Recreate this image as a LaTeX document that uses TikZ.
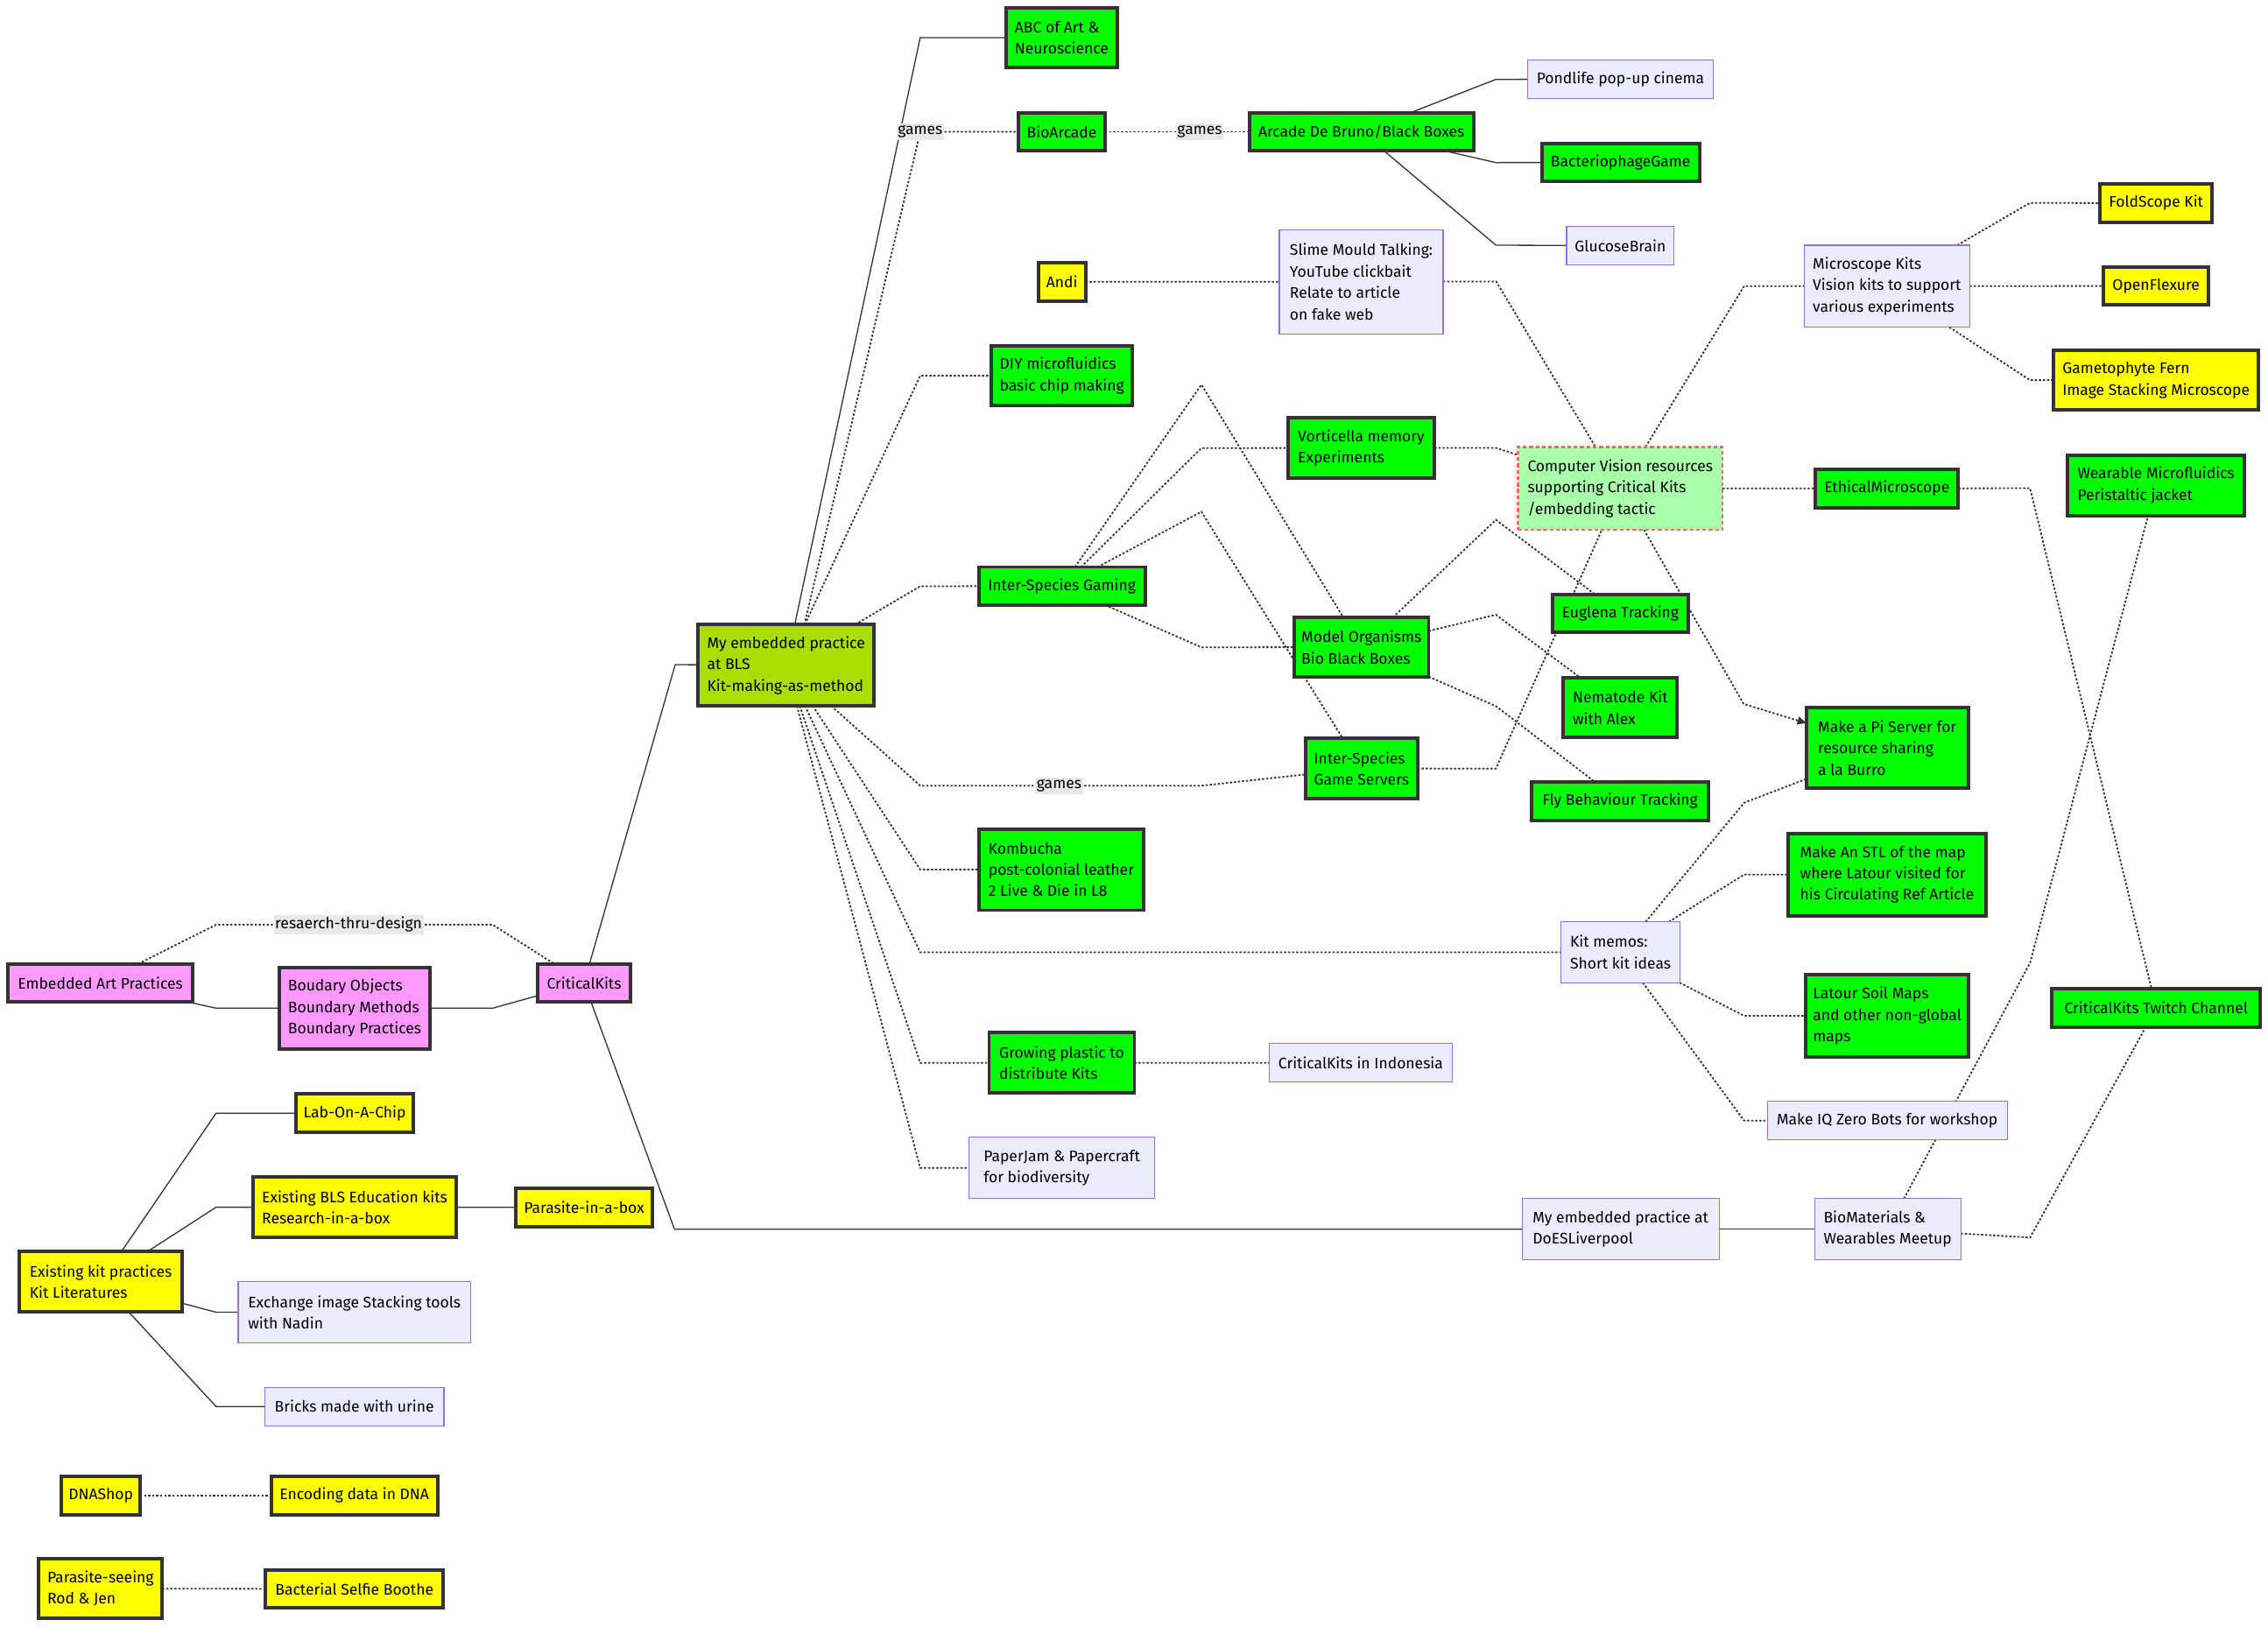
\documentclass[tikz,border=0pt]{standalone}
\usepackage{fontspec}
\setmainfont{Fira Sans}
\usetikzlibrary{arrows.meta,calc}
\definecolor{edgec}{HTML}{333333}
\definecolor{gfill}{HTML}{00FF00}
\definecolor{yfill}{HTML}{FFFF00}
\definecolor{pfill}{HTML}{FF99FF}
\definecolor{lfill}{HTML}{ECECFF}
\definecolor{lstroke}{HTML}{9370DB}
\definecolor{blsfill}{HTML}{AADD00}
\definecolor{cvfill}{HTML}{AAFFAA}
\definecolor{cvstroke}{HTML}{FF6666}
\definecolor{lblfill}{HTML}{E8E8E8}
\pgfdeclarelayer{bg}
\pgfsetlayers{bg,main}
\tikzset{
  base/.style={rectangle, inner sep=0pt, outer sep=0pt, align=left, text=black,
    font=\fontsize{10.6}{14.8}\selectfont},
  dim/.style 2 args={minimum width=#1pt, minimum height=#2pt},
  thickbox/.style={base, draw=edgec, line width=2.4pt},
  gbox/.style={thickbox, fill=gfill},
  ybox/.style={thickbox, fill=yfill},
  pbox/.style={thickbox, fill=pfill},
  blsbox/.style={thickbox, fill=blsfill},
  lbox/.style={base, draw=lstroke, line width=0.7pt, fill=lfill},
  cvbox/.style={base, draw=cvstroke, line width=1.6pt, fill=cvfill, dash pattern=on 2.6pt off 1.8pt},
  sol/.style={draw=edgec, line width=0.8pt},
  dot/.style={draw=edgec, line width=1.1pt, dash pattern=on 1.5pt off 1.3pt},
  lbl/.style={base, fill=lblfill, inner xsep=1pt, inner ysep=1.5pt},
  arr/.style={-{Triangle[length=6pt,width=5.5pt]}}
}
\begin{document}
\begin{tikzpicture}[x=1pt,y=-1pt]
\useasboundingbox (0,0) rectangle (1568,1124.8);
% ---------- nodes ----------
\node[gbox, dim={77.1}{41.6}] (abc) at (734,26) {ABC of Art \&\\Neuroscience};
\node[gbox, dim={59.8}{26.4}] (bioarc) at (734.1,91.1) {BioArcade};
\node[gbox, dim={155.1}{26.4}] (arcade) at (941.25,91.1) {Arcade De Bruno/Black Boxes};
\node[lbox, dim={128}{27}] (pond) at (1120.3,54.8) {Pondlife pop-up cinema};
\node[gbox, dim={108.8}{26.2}] (phage) at (1120.4,112.3) {BacteriophageGame};
\node[lbox, dim={74.2}{26.7}] (glucose) at (1120.2,169.85) {GlucoseBrain};
\node[ybox, dim={32.7}{26.9}] (andi) at (734.15,194.85) {Andi};
\node[lbox, dim={113.2}{72.1}] (slime) at (941.1,194.75) {Slime Mould Talking:\\YouTube clickbait\\Relate to article\\on fake web};
\node[gbox, dim={97.3}{41.6}] (diy) at (734.15,259.7) {DIY microfluidics\\basic chip making};
\node[gbox, dim={101.2}{41.5}] (vort) at (941.1,309.65) {Vorticella memory\\Experiments};
\node[cvbox, dim={141.5}{57.4}] (cv) at (1120.15,337.6) {Computer Vision resources\\supporting Critical Kits\\/embedding tactic};
\node[lbox, dim={114.3}{56.7}] (microscope) at (1304.55,197.85) {Microscope Kits\\Vision kits to support\\various experiments};
\node[ybox, dim={77.4}{26.5}] (foldscope) at (1490.6,140.45) {FoldScope Kit};
\node[ybox, dim={72.8}{26.4}] (openflex) at (1490.6,197.7) {OpenFlexure};
\node[ybox, dim={141.8}{41.6}] (gameto) at (1490.6,262.8) {Gametophyte Fern\\Image Stacking Microscope};
\node[gbox, dim={98.7}{26.5}] (ethical) at (1304.55,337.75) {EthicalMicroscope};
\node[gbox, dim={122.2}{41.6}] (wearable) at (1490.6,335.5) {Wearable Microfluidics\\Peristaltic jacket};
\node[gbox, dim={115}{26.3}] (gaming) at (734.1,405.15) {Inter-Species Gaming};
\node[gbox, dim={92.9}{41.1}] (model) at (941.25,447.45) {Model Organisms\\Bio Black Boxes};
\node[gbox, dim={94.1}{26.4}] (euglena) at (1120.25,424.1) {Euglena Tracking};
\node[gbox, dim={78.6}{41.2}] (nematode) at (1120.2,489.2) {Nematode Kit\\with Alex};
\node[gbox, dim={77.5}{41.5}] (servers) at (941.25,531.25) {Inter-Species\\Game Servers};
\node[gbox, dim={122.4}{26.5}] (fly) at (1120,553.85) {Fly Behaviour Tracking};
\node[blsbox, dim={121.9}{56.2}] (bls) at (543.45,459.9) {My embedded practice\\at BLS\\Kit-making-as-method};
\node[gbox, dim={112.1}{56.1}] (pi) at (1304.75,517.05) {Make a Pi Server for\\resource sharing\\a la Burro};
\node[gbox, dim={114.2}{56.2}] (kombucha) at (733.7,601.2) {Kombucha\\post-colonial leather\\2 Live \& Die in L8};
\node[gbox, dim={136.9}{56.9}] (stl) at (1304.65,604.65) {Make An STL of the map\\where Latour visited for\\his Circulating Ref Article};
\node[lbox, dim={82.7}{42.1}] (kitmemos) at (1120.35,658.35) {Kit memos:\\Short kit ideas};
\node[gbox, dim={113}{57.1}] (latour) at (1304.7,702.35) {Latour Soil Maps\\and other non-global\\maps};
\node[gbox, dim={144.3}{26.4}] (twitch) at (1490.65,696.85) {CriticalKits Twitch Channel};
\node[gbox, dim={100.5}{41.6}] (growing) at (734.05,734.8) {Growing plastic to\\distribute Kits};
\node[lbox, dim={126.7}{26.9}] (indonesia) at (940.75,734.75) {CriticalKits in Indonesia};
\node[lbox, dim={165.9}{26.6}] (iq) at (1304.75,774.8) {Make IQ Zero Bots for workshop};
\node[lbox, dim={128.4}{42.2}] (paperjam) at (734.1,807.4) {PaperJam \& Papercraft\\for biodiversity};
\node[lbox, dim={136.2}{42.2}] (does) at (1120.4,849.8) {My embedded practice at\\DoESLiverpool};
\node[lbox, dim={101.1}{42.2}] (biomat) at (1305.05,849.8) {BioMaterials \&\\Wearables Meetup};
\node[pbox, dim={127.9}{26.4}] (eap) at (69.35,679.5) {Embedded Art Practices};
\node[pbox, dim={103.6}{56}] (bound) at (245.2,697) {Boudary Objects\\Boundary Methods\\Boundary Practices};
\node[pbox, dim={64.2}{26.4}] (ck) at (403.8,679.5) {CriticalKits};
\node[ybox, dim={81.4}{26.4}] (lab) at (245.2,769.6) {Lab-On-A-Chip};
\node[ybox, dim={140.4}{41.6}] (blsedu) at (245.2,834.6) {Existing BLS Education kits\\Research-in-a-box};
\node[ybox, dim={94.9}{26.4}] (parasite) at (403.85,834.75) {Parasite-in-a-box};
\node[ybox, dim={112.6}{41.6}] (ekp) at (69.7,886.15) {Existing kit practices\\Kit Literatures};
\node[lbox, dim={160.6}{42}] (exch) at (245,907.2) {Exchange image Stacking tools\\with Nadin};
\node[lbox, dim={123.8}{26.6}] (bricks) at (245,972.4) {Bricks made with urine};
\node[ybox, dim={54.2}{26.4}] (dnashop) at (69.7,1033.85) {DNAShop};
\node[ybox, dim={115}{26.4}] (encoding) at (245,1033.85) {Encoding data in DNA};
\node[ybox, dim={85.2}{41.6}] (parseeing) at (69.5,1098.25) {Parasite-seeing\\Rod \& Jen};
\node[ybox, dim={122.7}{26.4}] (bacterial) at (245.05,1098.55) {Bacterial Selfie Boothe};
% ---------- connectors ----------
\begin{pgfonlayer}{bg}
\fill[white] (0,0) rectangle (1568,1124.8);
% solid
\draw[sol] (ck) -- (466.8,459.5) -- (bls);
\draw[sol] (ck) -- (466.3,849.8) -- (does);
\draw[sol] (bls) -- (636.2,26) -- (abc);
\draw[sol] (eap) -- (149.4,697) -- (bound);
\draw[sol] (bound) -- (340.6,697) -- (ck);
\draw[sol] (arcade) -- (1034.2,54.9) -- (pond);
\draw[sol] (arcade) -- (1034.2,112.4) -- (phage);
\draw[sol] (arcade) -- (1034.2,169.5) -- (glucose);
\draw[sol] (ekp) -- (149.4,769.6) -- (lab);
\draw[sol] (ekp) -- (149.4,834.6) -- (blsedu);
\draw[sol] (ekp) -- (149.4,907.2) -- (exch);
\draw[sol] (ekp) -- (149.4,972.4) -- (bricks);
\draw[sol] (blsedu) -- (parasite);
\draw[sol] (does) -- (biomat);
% dotted
\draw[dot] (eap) -- (149.4,639.3) -- (340.6,639.3) -- (ck);
\draw[dot] ($(bls.north west)!0.604!(bls.north east)$) -- (636.2,91.1) -- (bioarc);
\draw[dot] (bioarc) -- (arcade);
\draw[dot] (bls) -- (636.2,259.7) -- (diy);
\draw[dot] (bls) -- (636.2,405.3) -- (gaming);
\draw[dot] (bls) -- (636.2,543.2) -- (830.6,543.2) -- (servers);
\draw[dot] (bls) -- (636.2,601.2) -- (kombucha);
\draw[dot] (bls) -- (636.2,658.4) -- (kitmemos);
\draw[dot] (bls) -- (636.2,734.8) -- (growing);
\draw[dot] (bls) -- (636.2,807.4) -- (paperjam);
\draw[dot] (andi) -- (slime);
\draw[dot] (slime) -- (1034.4,194.6) -- (cv);
\draw[dot] (cv) -- (1205.8,197.8) -- (microscope);
\draw[dot] (vort) -- (1034.4,309.7) -- (cv);
\draw[dot] (cv) -- (ethical);
\draw[dot] (microscope) -- (1403.4,140.3) -- (foldscope);
\draw[dot] (microscope) -- (openflex);
\draw[dot] (microscope) -- (1403.4,262.8) -- (gameto);
\draw[dot] (ethical) -- (1403.5,337.5) -- (twitch);
\draw[dot] (gaming) -- (830.6,309.8) -- (vort);
\draw[dot] (gaming) -- (830.6,447.5) -- (model);
\draw[dot] (gaming) -- (830.6,265.9) -- (model);
\draw[dot] (gaming) -- (830.6,353.8) -- (servers);
\draw[dot] (model) -- (1034.2,359.4) -- (euglena);
\draw[dot] (model) -- (1034.2,425) -- (nematode);
\draw[dot] (model) -- (1034.2,488.2) -- (fly);
\draw[dot] (servers) -- (1034.2,531.4) -- (cv);
\draw[dot, arr] (cv) -- (1205.5,486.7) -- (pi);
\draw[dot] (kitmemos) -- (1205.8,555) -- (pi);
\draw[dot] (kitmemos) -- (1205.8,604.6) -- (stl);
\draw[dot] (kitmemos) -- (1205.8,702.3) -- (latour);
\draw[dot] (kitmemos) -- (1205.8,774.8) -- (iq);
\draw[dot] (growing) -- (indonesia);
\draw[dot] (biomat) -- (1403.5,665.6) -- (wearable);
\draw[dot] (biomat) -- (1403.5,855.6) -- (twitch);
\draw[dot] (dnashop) -- (encoding);
\draw[dot] (parseeing) -- (bacterial);
\end{pgfonlayer}
% ---------- edge labels ----------
\node[lbl] (l1) at (241,639.3) {resaerch-thru-design};
\node[lbl] (l2) at (636.2,91.1) {games};
\node[lbl] (l3) at (829.4,91.1) {games};
\node[lbl] (l4) at (732.2,543.2) {games};
\end{tikzpicture}
\end{document}
